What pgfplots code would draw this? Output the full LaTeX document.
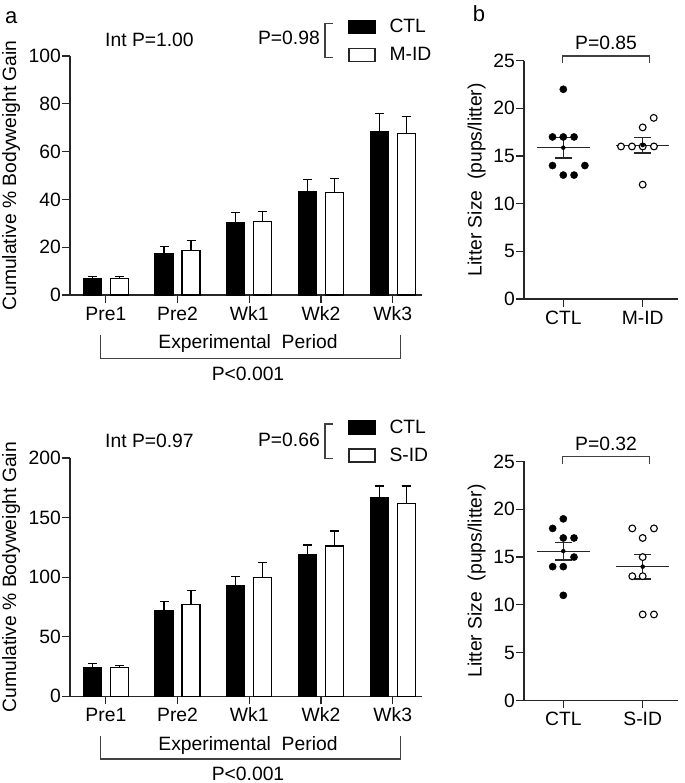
\documentclass[border=0pt]{standalone}
\usepackage{fontspec}
\setmainfont{Liberation Sans}
\usepackage{pgfplots}
\pgfplotsset{compat=1.18}
\newcommand{\fs}{\fontsize{19.3bp}{22bp}\selectfont}
\newcommand{\fb}{\fontsize{22bp}{24bp}\selectfont}
\pgfplotsset{
  gp/.style={
    scale only axis,
    axis lines*=left,
    axis line style={black!85, line width=1.2bp, -},
    tick align=outside,
    major tick length=8bp,
    tick style={black!85, line width=1.2bp},
    tick label style={font=\fs},
    label style={font=\fs},
    /pgf/number format/assume math mode=true,
    xticklabel style={anchor=base, yshift=-17.5bp},
    yticklabel style={anchor=east, inner sep=0pt, xshift=-1bp},
    clip=false,
    enlargelimits=false,
  },
  ebar/.style={error bars/.cd, y dir=plus, y explicit, error mark=|,
    error bar style={line width=1.2bp, draw=black},
    error mark options={line width=1.2bp, mark size=4.5bp, draw=black}},
  blackbar/.style={fill=black, draw=black, line width=1.2bp,
    legend image code/.code={\draw[fill=black, draw=black, line width=1.2bp] (0bp,-6.5bp) rectangle (26bp,6.5bp);}},
  whitebar/.style={fill=white, draw=black, line width=1.2bp,
    legend image code/.code={\draw[fill=white, draw=black!85, line width=1.2bp] (0bp,-6.5bp) rectangle (26bp,6.5bp);}},
  leg/.style={legend style={draw=none, fill=none, inner sep=0pt, outer sep=0pt,
    font=\fs, row sep=13bp, column sep=14bp, legend cell align=left,
    nodes={inner sep=0pt}, at={(axis description cs:#1)}, anchor=north west}},
  sem/.style={only marks, mark=none, error bars/.cd, y dir=both, y explicit, error mark=|,
    error bar style={line width=1.2bp, draw=black!85},
    error mark options={line width=1.2bp, mark size=8.3bp, draw=black!85}},
}
\begin{document}
\begin{tikzpicture}[x=1bp, y=1bp]
\useasboundingbox (0,0) rectangle (685,783);

% ---------- top left ----------
\begin{axis}[gp, at={(70bp,488bp)}, anchor=south west, width=352bp, height=239bp,
  xmin=-0.5, xmax=4.409, ymin=0, ymax=100, ytick={0,20,...,100},
  xtick={0,1,2,3,4}, xticklabels={Pre1,Pre2,Wk1,Wk2,Wk3},
  ybar, bar width=18bp,
  ylabel={Cumulative \% Bodyweight Gain},
  ylabel style={at={(axis description cs:-0.1534,0.5)}, anchor=base},
  xlabel={Experimental\ \ Period},
  xlabel style={at={(axis description cs:0.5056,-0.2238)}, anchor=base},
  leg={0.7906,1.1536}]
\addplot[bar shift=-13.5bp, blackbar, ebar] coordinates {
  (0,6.8) +- (0,1.1) (1,17.3) +- (0,2.9) (2,30.3) +- (0,4.1) (3,43.2) +- (0,5.2) (4,68.3) +- (0,7.7)};
\addplot[bar shift=13.5bp, whitebar, ebar] coordinates {
  (0,7.0) +- (0,0.9) (1,18.6) +- (0,4.3) (2,30.6) +- (0,4.2) (3,42.8) +- (0,6.0) (4,67.4) +- (0,7.2)};
\legend{CTL,M-ID}
\end{axis}

% ---------- bottom left ----------
\begin{axis}[gp, at={(70bp,86.7bp)}, anchor=south west, width=352bp, height=238.3bp,
  xmin=-0.5, xmax=4.409, ymin=0, ymax=200, ytick={0,50,...,200},
  xtick={0,1,2,3,4}, xticklabels={Pre1,Pre2,Wk1,Wk2,Wk3},
  ybar, bar width=18bp,
  ylabel={Cumulative \% Bodyweight Gain},
  ylabel style={at={(axis description cs:-0.1534,0.5)}, anchor=base},
  xlabel={Experimental\ \ Period},
  xlabel style={at={(axis description cs:0.5056,-0.2283)}, anchor=base},
  leg={0.7906,1.1595}]
\addplot[bar shift=-13.5bp, blackbar, ebar] coordinates {
  (0,24.1) +- (0,3.6) (1,71.7) +- (0,7.9) (2,93.3) +- (0,7.0) (3,119.3) +- (0,7.6) (4,166.6) +- (0,9.9)};
\addplot[bar shift=13.5bp, whitebar, ebar] coordinates {
  (0,24.1) +- (0,1.7) (1,77.0) +- (0,11.8) (2,99.7) +- (0,12.3) (3,126.1) +- (0,12.6) (4,161.9) +- (0,14.6)};
\legend{CTL,S-ID}
\end{axis}

% ---------- top right ----------
\begin{axis}[gp, at={(524bp,484bp)}, anchor=south west, width=154bp, height=238.3bp,
  xmin=-0.495, xmax=1.445, ymin=0, ymax=25, ytick={0,5,...,25},
  xtick={0,1}, xticklabels={CTL,M-ID},
  ylabel={Litter Size\ \ (pups/litter)},
  ylabel style={at={(axis description cs:-0.2747,0.5)}, anchor=base}]
\addplot[only marks, mark=*, mark size=3.6bp, mark options={fill=black, draw=black}] coordinates {
  (0,22) (-0.136,17) (0,17) (0.136,17) (-0.136,14) (0.272,14) (0,13) (0.136,13)};
\addplot[only marks, mark=*, mark size=3.4bp, mark options={fill=white, draw=black, line width=1.1bp}] coordinates {
  (1.139,19) (1,18) (0.727,16) (0.865,16) (1,16) (1.142,16) (1,12)};
\addplot[black!85, line width=1.2bp] coordinates {(-0.336,15.875) (0.336,15.875)};
\addplot[black!85, line width=1.2bp] coordinates {(0.664,16.143) (1.336,16.143)};
\addplot[sem] coordinates {(0,15.875) +- (0,1.076) (1,16.143) +- (0,0.83)};
\end{axis}

% ---------- bottom right ----------
\begin{axis}[gp, at={(524bp,82.5bp)}, anchor=south west, width=154bp, height=239bp,
  xmin=-0.495, xmax=1.445, ymin=0, ymax=25, ytick={0,5,...,25},
  xtick={0,1}, xticklabels={CTL,S-ID},
  ylabel={Litter Size\ \ (pups/litter)},
  ylabel style={at={(axis description cs:-0.2747,0.5)}, anchor=base}]
\addplot[only marks, mark=*, mark size=3.6bp, mark options={fill=black, draw=black}] coordinates {
  (0,19) (-0.134,18) (0,17) (0.135,17) (0.135,15) (-0.134,14) (0,14) (0,11)};
\addplot[only marks, mark=*, mark size=3.4bp, mark options={fill=white, draw=black, line width=1.1bp}] coordinates {
  (0.869,18) (1.142,18) (1,17) (1,15) (0.869,13) (1,13) (1,9) (1.142,9)};
\addplot[black!85, line width=1.2bp] coordinates {(-0.336,15.625) (0.336,15.625)};
\addplot[black!85, line width=1.2bp] coordinates {(0.664,14.0) (1.336,14.0)};
\addplot[sem] coordinates {(0,15.625) +- (0,0.925) (1,14.0) +- (0,1.296)};
\end{axis}

% ---------- annotations (pixel coordinates, y downward) ----------
\begin{scope}[shift={(0,783)}, yscale=-1, font=\fs]
  \node[anchor=base west, inner sep=0pt, font=\fb] at (5,23.3) {a};
  \node[anchor=base west, inner sep=0pt, font=\fb] at (472.7,21.7) {b};
  % top left
  \node[anchor=base west, inner sep=0pt] at (105,46.7) {Int P=1.00};
  \node[anchor=base east, inner sep=0pt] at (320,45) {P=0.98};
  \draw[black!75, line width=1.2bp] (333,23.3) -- (325,23.3) -- (325,57.3) -- (333,57.3);
  \draw[black!75, line width=1.2bp] (100.7,335) -- (100.7,358.3) -- (400.7,358.3) -- (400.7,335);
  \node[anchor=base, inner sep=0pt] at (248,380.7) {P<0.001};
  % bottom left
  \node[anchor=base west, inner sep=0pt] at (105,447.3) {Int P=0.97};
  \node[anchor=base east, inner sep=0pt] at (320,446.5) {P=0.66};
  \draw[black!75, line width=1.2bp] (333,424) -- (325,424) -- (325,458.3) -- (333,458.3);
  \draw[black!75, line width=1.2bp] (100.7,736) -- (100.7,759) -- (400.7,759) -- (400.7,736);
  \node[anchor=base, inner sep=0pt] at (248,780.5) {P<0.001};
  % top right
  \node[anchor=base, inner sep=0pt] at (606,49.3) {P=0.85};
  \draw[black!75, line width=1.2bp] (562.7,63.3) -- (562.7,56) -- (649.3,56) -- (649.3,63.3);
  % bottom right
  \node[anchor=base, inner sep=0pt] at (606,450.7) {P=0.32};
  \draw[black!75, line width=1.2bp] (562.7,464) -- (562.7,456.7) -- (649.3,456.7) -- (649.3,464);
\end{scope}
\end{tikzpicture}
\end{document}
